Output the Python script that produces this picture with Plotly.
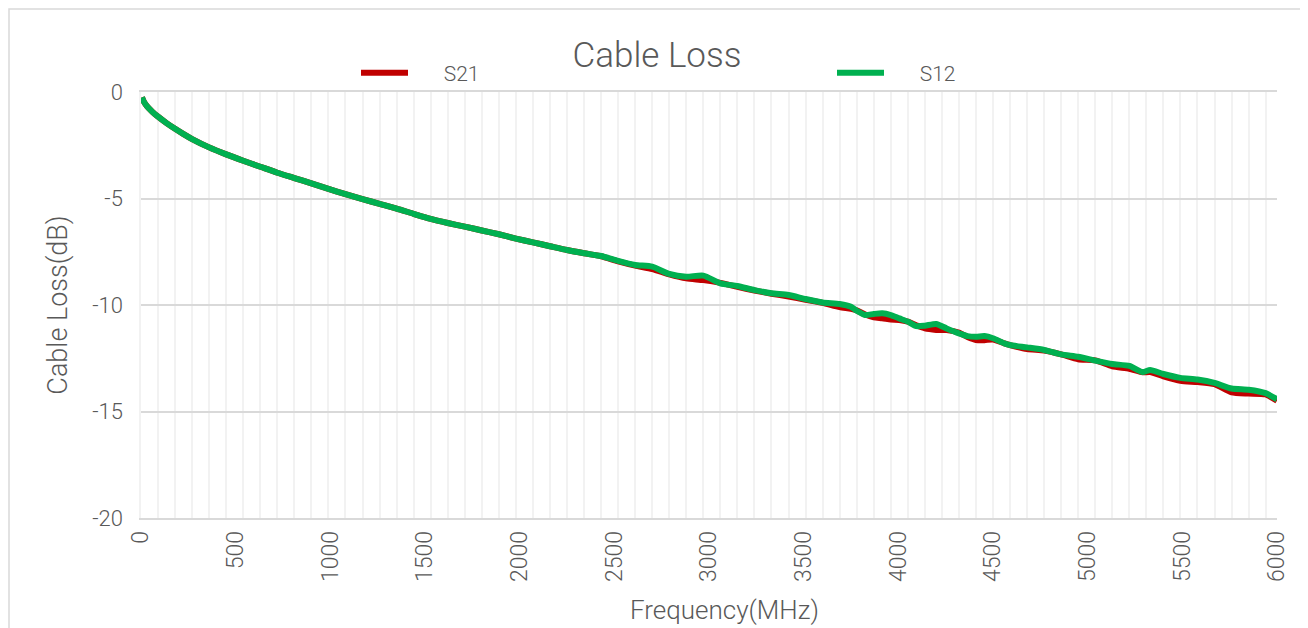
import plotly.graph_objects as go

# Frequency (MHz)
freq = [5, 15, 30, 60, 90, 135, 180, 225, 270, 360, 450, 540, 630, 720, 810, 900, 990,
        1080, 1170, 1260, 1350, 1440, 1530, 1620, 1710, 1800, 1890, 1980, 2070,
        2160, 2250, 2340, 2430, 2520, 2610, 2700, 2790, 2880, 2970, 3060, 3150,
        3240, 3330, 3420, 3510, 3600, 3690, 3750, 3780, 3825, 3870, 3915, 3960,
        4005, 4050, 4095, 4140, 4200, 4255, 4320, 4365, 4410, 4455, 4500, 4560,
        4590, 4680, 4770, 4860, 4950, 5040, 5130, 5220, 5290, 5330, 5400, 5490,
        5580, 5670, 5760, 5850, 5940, 6000]

s12 = [-0.25, -0.45, -0.65, -0.93, -1.16, -1.46, -1.73, -1.98, -2.21, -2.60, -2.93,
       -3.23, -3.51, -3.79, -4.04, -4.29, -4.55, -4.80, -5.03, -5.25, -5.47, -5.72,
       -5.96, -6.15, -6.32, -6.50, -6.68, -6.88, -7.06, -7.24, -7.42, -7.57, -7.70,
       -7.93, -8.12, -8.20, -8.54, -8.67, -8.62, -8.98, -9.11, -9.30, -9.45, -9.53,
       -9.72, -9.88, -9.95, -10.08, -10.27, -10.47, -10.42, -10.39, -10.47, -10.63,
       -10.78, -10.99, -10.97, -10.89, -11.10, -11.33, -11.46, -11.49, -11.46, -11.56,
       -11.80, -11.88, -11.99, -12.11, -12.32, -12.43, -12.61, -12.77, -12.86, -13.15,
       -13.05, -13.24, -13.42, -13.50, -13.66, -13.92, -13.98, -14.14, -14.43]

s21 = [-0.25, -0.45, -0.65, -0.93, -1.16, -1.46, -1.73, -1.98, -2.21, -2.60, -2.93,
       -3.23, -3.51, -3.79, -4.04, -4.29, -4.55, -4.80, -5.03, -5.25, -5.47, -5.72,
       -5.96, -6.15, -6.32, -6.50, -6.68, -6.88, -7.06, -7.24, -7.42, -7.57, -7.71,
       -7.95, -8.15, -8.31, -8.56, -8.75, -8.83, -8.96, -9.15, -9.32, -9.47, -9.60,
       -9.75, -9.90, -10.10, -10.18, -10.25, -10.45, -10.58, -10.62, -10.68, -10.70,
       -10.78, -10.95, -11.10, -11.17, -11.18, -11.30, -11.50, -11.64, -11.65, -11.62,
       -11.80, -11.88, -12.07, -12.14, -12.32, -12.55, -12.60, -12.88, -12.99, -13.16,
       -13.15, -13.35, -13.56, -13.62, -13.72, -14.10, -14.16, -14.20, -14.50]

x_ticks = [0, 500, 1000, 1500, 2000, 2500, 3000, 3500, 4000, 4500, 5000, 5500, 6000]
y_ticks = [0, -5, -10, -15, -20]

FONT = "Roboto"
GRAY = "#595959"
PAD = "\u00a0" * 6

fig = go.Figure()
fig.add_trace(go.Scatter(x=freq, y=s21, name=PAD + "S21", mode="lines", legend="legend",
                         line=dict(color="#C00000", width=6, shape="spline", smoothing=0.6)))
fig.add_trace(go.Scatter(x=freq, y=s12, name=PAD + "S12", mode="lines", legend="legend2",
                         line=dict(color="#00B050", width=6, shape="spline", smoothing=0.6)))

# page is offset by 8px body margin
OFF = 8
W, H = 1300, 620
L, R, T, B = 133, 31, 84, 110
pw, ph = W - L - R, H - T - B

def px_x(px):
    return (px - OFF - L) / pw

def px_y(py):
    return (H - B - (py - OFF)) / ph

legend_style = dict(orientation="h", xanchor="left", y=px_y(73), yanchor="middle",
                    itemwidth=47, bgcolor="rgba(0,0,0,0)",
                    font=dict(size=21, color=GRAY, family=FONT, weight=300))

fig.update_layout(
    width=W, height=H,
    margin=dict(l=L, r=R, t=T, b=B, autoexpand=False),
    paper_bgcolor="white", plot_bgcolor="white",
    font=dict(family=FONT, color=GRAY, weight=300),
    title=dict(text="Cable Loss", x=(657 - OFF) / W, xref="container", xanchor="center",
               y=1 - (55 - OFF) / H, yref="container", yanchor="middle",
               font=dict(size=35, color=GRAY, family=FONT, weight=300)),
    xaxis=dict(range=[0, 6000], tickvals=x_ticks, ticktext=[str(v) for v in x_ticks],
               tickangle=-90, showgrid=False, zeroline=False,
               showline=True, mirror=True, linecolor="#d9d9d9", linewidth=1.5,
               ticks="", ticklabelstandoff=2,
               minor=dict(tick0=0, dtick=90, showgrid=True, gridcolor="#f2f2f2",
                          gridwidth=1.5, ticks=""),
               tickfont=dict(size=23, color=GRAY, family=FONT, weight=300)),
    yaxis=dict(range=[-20, 0], tickvals=y_ticks, ticktext=[str(v) for v in y_ticks],
               showgrid=True, gridcolor="#d9d9d9", gridwidth=1.5, zeroline=False,
               showline=True, linecolor="#f2f2f2", linewidth=1.5,
               ticks="", ticklabelstandoff=12,
               tickfont=dict(size=22, color=GRAY, family=FONT, weight=300),
               title=dict(text="Cable Loss(dB)", standoff=17,
                          font=dict(size=27, color=GRAY, family=FONT, weight=300))),
    legend=dict(x=px_x(356), **legend_style),
    legend2=dict(x=px_x(832), **legend_style),
    showlegend=True,
    annotations=[dict(text="Frequency(MHz)", xref="paper", yref="paper",
                      x=px_x(724), y=px_y(610), xanchor="center", yanchor="middle",
                      showarrow=False, font=dict(size=26, color=GRAY, family=FONT, weight=300))],
    shapes=[dict(type="rect", xref="paper", yref="paper",
                 x0=px_x(9), x1=px_x(1305), y0=px_y(640), y1=px_y(9),
                 line=dict(color="#d9d9d9", width=1.5), fillcolor="rgba(0,0,0,0)",
                 layer="below")],
)

fig.write_html("out.html")
